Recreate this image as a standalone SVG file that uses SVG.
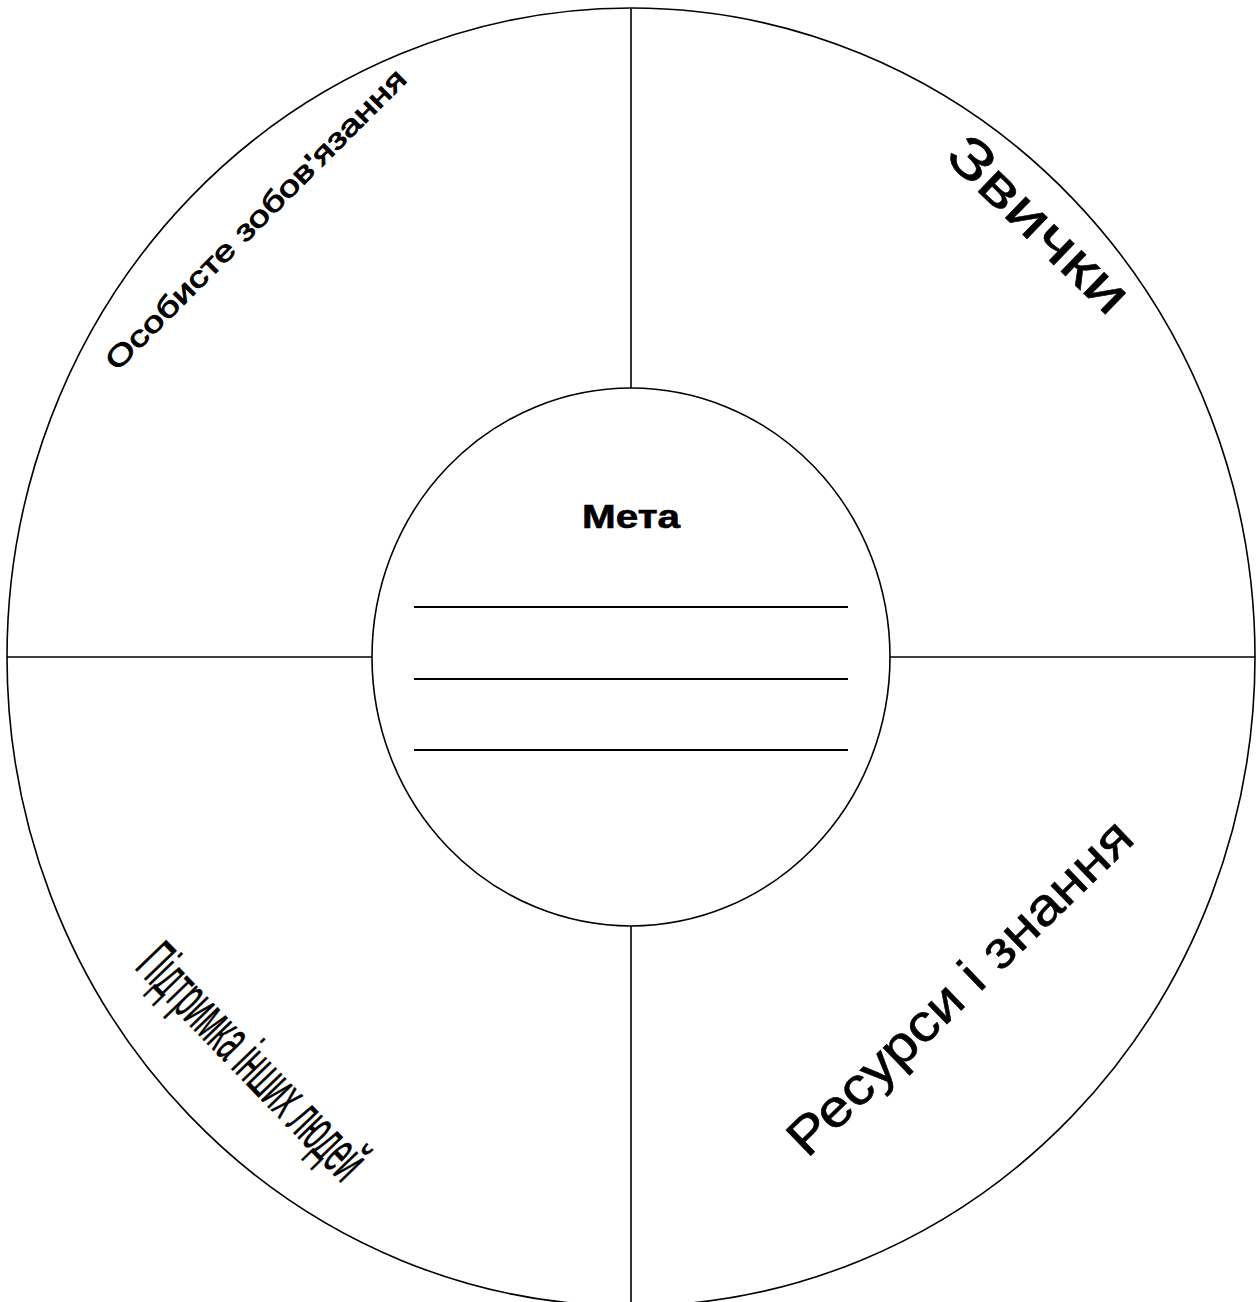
<svg xmlns="http://www.w3.org/2000/svg" width="1258" height="1302" viewBox="0 0 1258 1302">
<style>
.ln{stroke:#000;stroke-width:1.6;fill:none}
.wl{stroke:#000;stroke-width:2;fill:none}
.t{font-family:"Liberation Sans","DejaVu Sans",sans-serif;fill:#000;stroke:#000;stroke-width:0.6}
</style>
<rect width="1258" height="1302" fill="#fff"/>
<g id="outer">
<ellipse class="ln" cx="631" cy="657" rx="624" ry="649"/>
</g>
<g id="connectors">
<line class="ln" x1="631" y1="8" x2="631" y2="388"/>
<line class="ln" x1="631" y1="926" x2="631" y2="1302"/>
<line class="ln" x1="7" y1="657" x2="372" y2="657"/>
<line class="ln" x1="890" y1="657" x2="1255" y2="657"/>
</g>
<g id="goal">
<ellipse class="ln" cx="631" cy="657" rx="259" ry="269"/>
<text class="t" x="631" y="528" font-size="33" font-weight="bold" text-anchor="middle" textLength="98" lengthAdjust="spacingAndGlyphs">Мета</text>
<line class="wl" x1="414" y1="607" x2="848" y2="607"/>
<line class="wl" x1="414" y1="679" x2="848" y2="679"/>
<line class="wl" x1="414" y1="750" x2="848" y2="750"/>
</g>
<g id="commitment">
<text class="t" transform="translate(117,372) rotate(-45)" font-size="29" style="stroke-width:0.9" textLength="412" lengthAdjust="spacingAndGlyphs">Особисте зобов'язання</text>
</g>
<g id="habits">
<text class="t" transform="translate(1026,238) rotate(44)" font-size="56" text-anchor="middle" textLength="230" lengthAdjust="spacingAndGlyphs">Звички</text>
</g>
<g id="resources">
<text class="t" transform="translate(972,1000) rotate(-44)" font-size="52" text-anchor="middle" textLength="458" lengthAdjust="spacingAndGlyphs">Ресурси і знання</text>
</g>
<g id="support">
<text class="t" transform="translate(238,1076) rotate(46)" font-size="62" text-anchor="middle" textLength="300" lengthAdjust="spacingAndGlyphs">Підтримка інших людей</text>
</g>
</svg>
